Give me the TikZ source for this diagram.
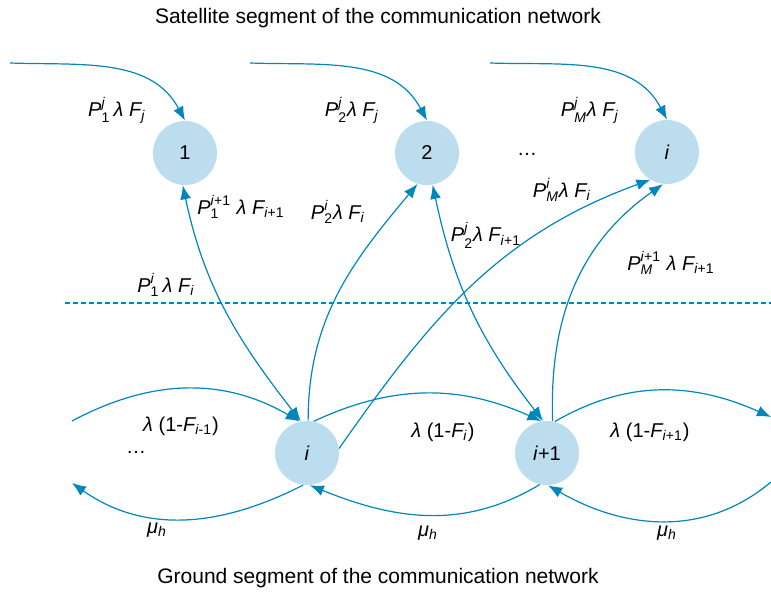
\documentclass[tikz,border=0pt]{standalone}
\usepackage{amsmath}
\usepackage{fontspec}
\setmainfont{Liberation Sans}
\usepackage{tikz}
\usetikzlibrary{arrows.meta}
\definecolor{flowblue}{RGB}{0,134,189}
\definecolor{stateblue}{RGB}{188,221,237}
\newcommand{\Pq}[2]{$\textit{P}^{\text{#2}}_{\text{#1}}$}
\newcommand{\Fq}[1]{$\textit{F}_{\text{#1}}$}
\newcommand{\lam}{\textit{λ}}
\newcommand{\muh}{\textit{μ}$_{\text{\textit{h}}}$}
\newcommand{\iq}{\textit{i}}
\newcommand{\jq}{\textit{j}}

\begin{document}
\begin{tikzpicture}[x=0.5pt, y=0.5pt,
    every node/.style={font=\fontsize{10}{12}\selectfont, align=center},
    segTitle/.style={font=\fontsize{10.5}{12}\selectfont},
    stateNode/.style={circle, fill=stateblue, minimum size=32pt, inner sep=0pt},
    flowArr/.style={draw=flowblue, line width=0.6pt, -{Latex[length=7pt,width=5.5pt]}},
    biArr/.style={draw=flowblue, line width=0.6pt, {Latex[length=7pt,width=5.5pt]}-{Latex[length=7pt,width=5.5pt]}},
    segLine/.style={draw=flowblue, line width=0.6pt, dash pattern=on 2.5pt off 1.5pt}
]
    \useasboundingbox (0,0) rectangle (771,-592);

    \node [segTitle] (satTitle) at (378,-18) {Satellite segment of the communication network};
    \node [segTitle] (gndTitle) at (378,-578) {Ground segment of the communication network};

    % satellite states
    \node [stateNode] (s1) at (185,-153) {1};
    \node [stateNode] (s2) at (427,-153) {2};
    \node [stateNode] (sM) at (667,-152) {\iq};
    \node (sDots) at (527,-154) {\dots};

    % ground states
    \node [stateNode] (gi) at (307,-453) {\iq};
    \node [stateNode] (gj) at (547,-453) {\iq+1};
    \node (gDots) at (136,-452) {\dots};

    \coordinate (in1) at (10,-63);
    \coordinate (in2) at (250,-63);
    \coordinate (in3) at (490,-63);
    \coordinate (gLeftIn) at (72,-421);
    \coordinate (gLeftOut) at (72,-483);
    \coordinate (gRightOut) at (771,-417);
    \coordinate (gRightIn) at (771,-482);
    \coordinate (dashL) at (65,-303);
    \coordinate (dashR) at (771,-303);

    \path [segLine] (dashL) -- (dashR);

    \draw [flowArr] (in1) to[out=-2, in=118] (s1.north);
    \draw [flowArr] (in2) to[out=-2, in=118] (s2.north);
    \draw [flowArr] (in3) to[out=-2, in=118] (sM.north);

    \draw [biArr] (s1.-94) to[out=-78, in=128] (gi.101);
    \draw [flowArr] (gi.88) to[out=90, in=-130] (s2.-107);
    \draw [flowArr] (gi.8) to[out=55, in=-160] (sM.-121);
    \draw [biArr] (s2.-80) to[out=-78, in=128] (gj.97);
    \draw [flowArr] (gj.80) to[out=92, in=-145] (sM.-97);

    \draw [flowArr] (gLeftIn) to[out=28, in=150] (gi.103);
    \draw [flowArr] (gi.-97) to[out=-153, in=-35] (gLeftOut);
    \draw [flowArr] (gi.78) to[out=25, in=156] (gj.100);
    \draw [flowArr] (gj.-103) to[out=-149, in=-22] (gi.-85);
    \draw [flowArr] (gj.76) to[out=30, in=156] (gRightOut);
    \draw [flowArr] (gRightIn) to[out=-140, in=-30] (gj.-88);

    % rate labels
    \node (l1) at (117,-110) {\Pq{1}{\jq}\,\lam\ \Fq{\jq}};
    \node (l2) at (352,-110) {\Pq{2}{\jq}\lam\ \Fq{\jq}};
    \node (l3) at (590,-110) {\Pq{\textit{M}}{\jq}\lam\ \Fq{\jq}};
    \node (l4) at (241,-207) {\Pq{1}{\iq+1}\ \lam\ \Fq{\iq+1}};
    \node (l5) at (338,-212) {\Pq{2}{\iq}\lam\ \Fq{\iq}};
    \node (l6) at (486,-235) {\Pq{2}{\jq}\lam\ \Fq{\iq+1}};
    \node (l7) at (562,-190) {\Pq{\textit{M}}{\iq}\lam\ \Fq{\iq}};
    \node (l8) at (671,-263) {\Pq{\textit{M}}{\iq+1}\ \lam\ \Fq{\iq+1}};
    \node (l9) at (166,-285) {\Pq{1}{\iq}\,\lam\ \Fq{\iq}};

    \node (g1) at (181,-426) {\lam\ (1-\Fq{\iq-1})};
    \node (g2) at (443,-432) {\lam\ (1-\Fq{\iq})};
    \node (g3) at (650,-432) {\lam\ (1-\Fq{\iq+1})};
    \node (m1) at (157,-530) {\muh};
    \node (m2) at (428,-533) {\muh};
    \node (m3) at (667,-533) {\muh};
\end{tikzpicture}
\end{document}
